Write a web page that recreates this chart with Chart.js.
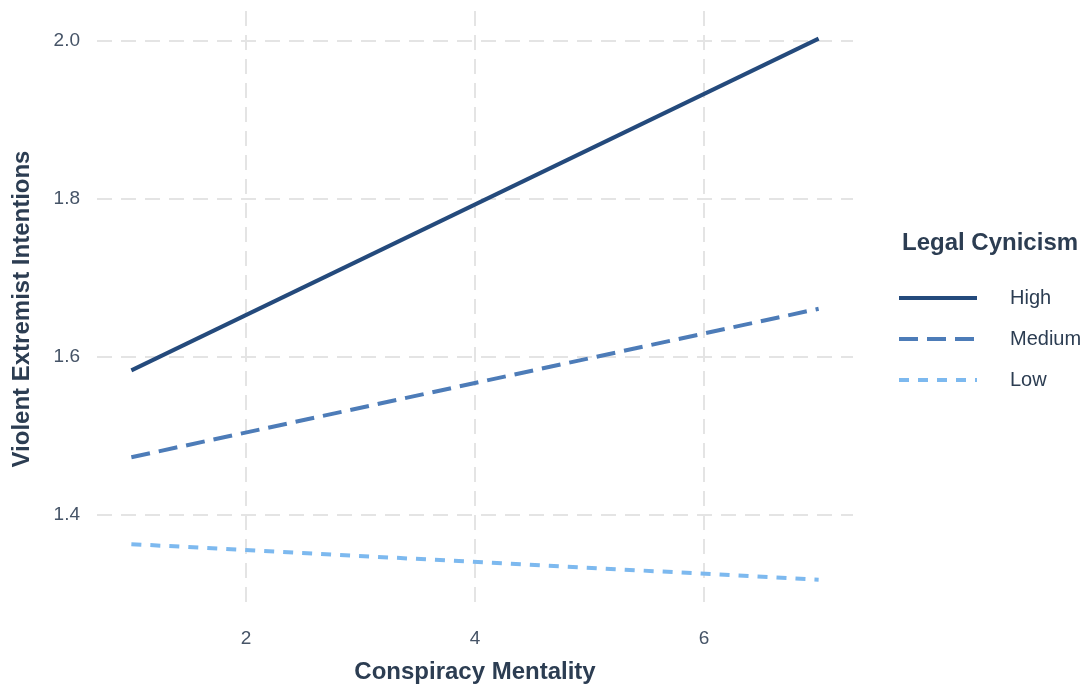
<!DOCTYPE html>
<html>
<head>
<meta charset="utf-8">
<script src="https://cdn.jsdelivr.net/npm/chart.js@4/dist/chart.umd.min.js"></script>
<style>
html,body{margin:0;padding:0;background:#fff;}
#wrap{width:1084px;height:687px;position:relative;}
</style>
</head>
<body>
<div id="wrap"><canvas id="c" width="1084" height="687"></canvas></div>
<script>
// Data
const xValues = [1, 7];
const seriesNames = ["High", "Medium", "Low"];
const highValues = [1.583, 2.003];
const mediumValues = [1.473, 1.661];
const lowValues = [1.363, 1.318];
const xTicks = [2, 4, 6];
const yTicks = [1.4, 1.6, 1.8, 2.0];
const xTitle = "Conspiracy Mentality";
const yTitle = "Violent Extremist Intentions";
const legendTitle = "Legal Cynicism";

const colors = ["#244a7c", "#4d7cb8", "#7db9ef"];
const dashes = [[], [19, 9], [10, 9]];
const valuesBySeries = [highValues, mediumValues, lowValues];

const textColor = "#2c3d52";
const tickColor = "#465467";
const FONT = "'Liberation Sans', Arial, Helvetica, sans-serif";

const datasets = seriesNames.map((n, i) => ({
  label: n,
  data: xValues.map((x, j) => ({x: x, y: valuesBySeries[i][j]})),
  borderColor: colors[i],
  backgroundColor: colors[i],
  borderWidth: 4,
  borderDash: dashes[i],
  borderCapStyle: 'butt',
  pointRadius: 0,
  fill: false,
  tension: 0
}));

const legendPlugin = {
  id: 'customLegend',
  afterDraw(chart) {
    const ctx = chart.ctx;
    ctx.save();
    ctx.fillStyle = textColor;
    ctx.font = "bold 24px " + FONT;
    ctx.textBaseline = 'middle';
    ctx.textAlign = 'left';
    ctx.fillText(legendTitle, 902, 243);
    const ys = [298, 339, 380];
    seriesNames.forEach((n, i) => {
      ctx.beginPath();
      ctx.strokeStyle = colors[i];
      ctx.lineWidth = 4;
      ctx.lineCap = 'butt';
      ctx.setLineDash(dashes[i]);
      ctx.moveTo(899, ys[i]);
      ctx.lineTo(977, ys[i]);
      ctx.stroke();
      ctx.setLineDash([]);
      ctx.fillStyle = textColor;
      ctx.font = "20px " + FONT;
      ctx.fillText(n, 1010, ys[i]);
    });
    ctx.restore();
  }
};

new Chart(document.getElementById('c'), {
  type: 'line',
  data: { datasets: datasets },
  plugins: [legendPlugin],
  options: {
    responsive: false,
    animation: false,
    layout: { padding: { top: 11, right: 231, left: 0, bottom: 0 } },
    plugins: { legend: { display: false }, tooltip: { enabled: false } },
    scales: {
      x: {
        type: 'linear',
        min: 0.7, max: 7.3,
        afterBuildTicks(axis) { axis.ticks = xTicks.map(v => ({value: v})); },
        afterFit(axis) { axis.height = 80; axis.paddingLeft = 0; axis.paddingRight = 0; },
        grid: { color: '#e4e4e4', lineWidth: 2, drawTicks: false },
        border: { display: false, dash: [15, 9] },
        ticks: {
          color: tickColor, font: { family: FONT, size: 19 }, padding: 20,
          callback: v => String(v)
        },
        title: {
          display: true, text: xTitle, color: textColor,
          font: { family: FONT, size: 24, weight: 'bold' },
          padding: { top: 8, bottom: 0 }
        }
      },
      y: {
        type: 'linear',
        min: 1.2834, max: 2.038,
        afterBuildTicks(axis) { axis.ticks = yTicks.map(v => ({value: v})); },
        afterFit(axis) { axis.width = 97; axis.paddingTop = 0; axis.paddingBottom = 0; },
        grid: { color: '#e4e4e4', lineWidth: 2, drawTicks: false },
        border: { display: false, dash: [15, 9] },
        ticks: {
          color: tickColor, font: { family: FONT, size: 19 }, padding: 17,
          callback: v => v.toFixed(1)
        },
        title: {
          display: true, text: yTitle, color: textColor,
          font: { family: FONT, size: 24, weight: 'bold' },
          padding: { top: 8, bottom: 0 }
        }
      }
    }
  }
});
</script>
</body>
</html>
